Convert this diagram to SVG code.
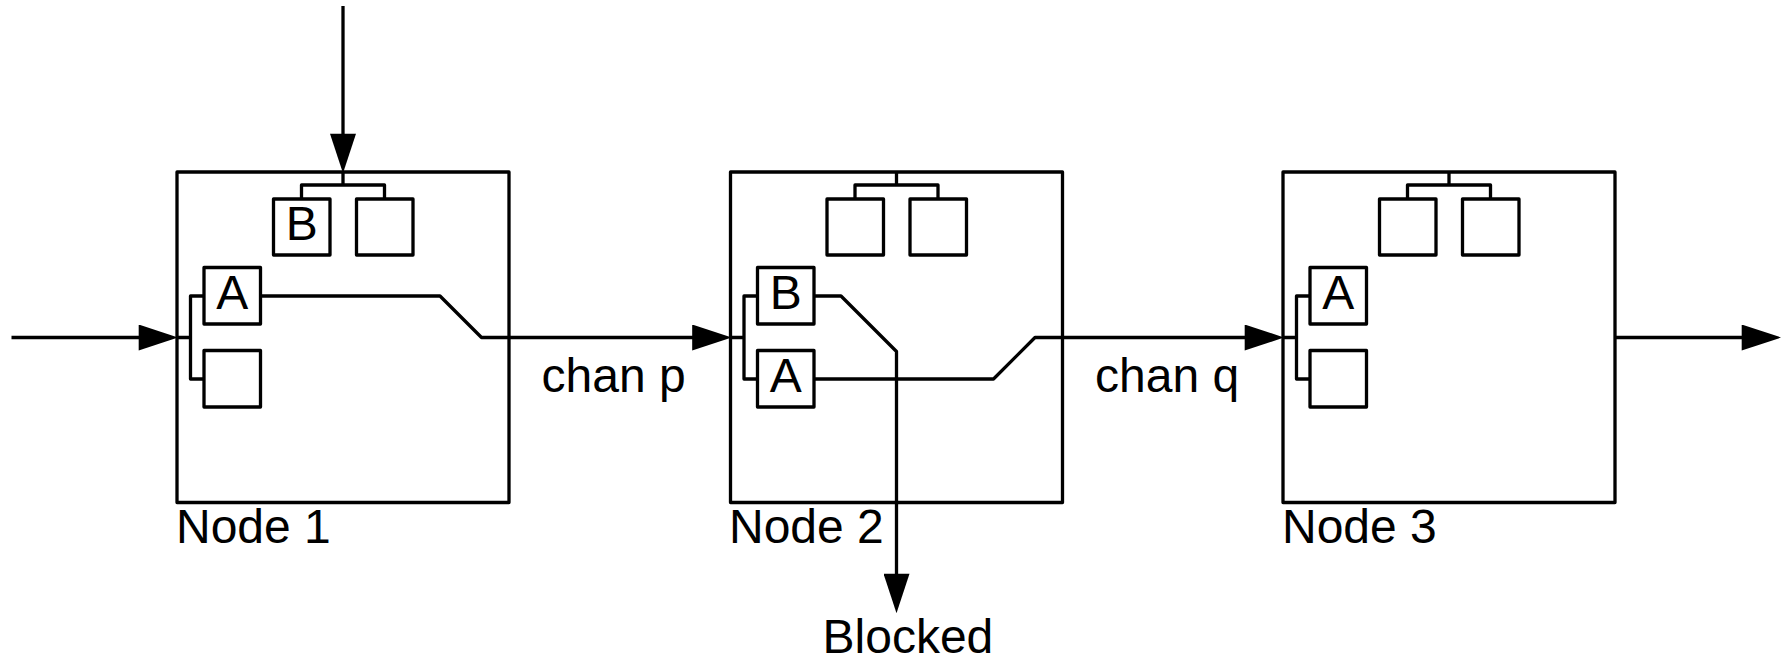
<svg xmlns="http://www.w3.org/2000/svg" width="1787" height="660" viewBox="0 0 1787 660">
<defs>
<style>
.ln{fill:none;stroke:#000;stroke-width:3.3;stroke-linejoin:round}
.bx{fill:#fff;stroke:#000;stroke-width:3.3;stroke-linejoin:round}
.nd{fill:none;stroke:#000;stroke-width:3.3;stroke-linejoin:round}
.t{font-family:"Liberation Sans",Arial,sans-serif;font-size:48px;fill:#000}
.c{text-anchor:middle}
</style>
<marker id="ah" markerUnits="userSpaceOnUse" markerWidth="40" markerHeight="26" viewBox="0 0 38 25" refX="8" refY="12.5" orient="auto">
<path d="M0,0 L38,12.5 L0,25 Z" fill="#000"/>
</marker>
</defs>
<rect width="1787" height="660" fill="#fff"/>

<g id="node1">
<rect class="nd" x="177" y="172" width="332" height="330.5"/>
<path class="ln" d="M343,172 V185 M301.5,199 V185 H384.5 V199 M177,337.5 H190.5 M204,296 H190.5 V379 H204"/>
<rect class="bx" x="273.5" y="199" width="56.5" height="56"/>
<rect class="bx" x="356.5" y="199" width="56.5" height="56"/>
<rect class="bx" x="204" y="267.5" width="56.5" height="56.5"/>
<rect class="bx" x="204" y="350.5" width="56.5" height="56.5"/>
<text class="t c" x="301.75" y="240">B</text>
<text class="t c" x="232.25" y="309">A</text>
<text class="t" x="176" y="543">Node 1</text>
</g>

<g id="node2">
<rect class="nd" x="730.5" y="172" width="332" height="330.5"/>
<path class="ln" d="M896.5,172 V185 M855,199 V185 H938 V199 M730.5,337.5 H744 M757.5,296 H744 V379 H757.5"/>
<rect class="bx" x="827" y="199" width="56.5" height="56"/>
<rect class="bx" x="910" y="199" width="56.5" height="56"/>
<rect class="bx" x="757.5" y="267.5" width="56.5" height="56.5"/>
<rect class="bx" x="757.5" y="350.5" width="56.5" height="56.5"/>
<text class="t c" x="785.75" y="309">B</text>
<text class="t c" x="785.75" y="392">A</text>
<text class="t" x="729" y="543">Node 2</text>
</g>

<g id="node3">
<rect class="nd" x="1283" y="172" width="332" height="330.5"/>
<path class="ln" d="M1449,172 V185 M1407.5,199 V185 H1490.5 V199 M1283,337.5 H1296.5 M1310,296 H1296.5 V379 H1310"/>
<rect class="bx" x="1379.5" y="199" width="56.5" height="56"/>
<rect class="bx" x="1462.5" y="199" width="56.5" height="56"/>
<rect class="bx" x="1310" y="267.5" width="56.5" height="56.5"/>
<rect class="bx" x="1310" y="350.5" width="56.5" height="56.5"/>
<text class="t c" x="1338.25" y="309">A</text>
<text class="t" x="1282" y="543">Node 3</text>
</g>

<g id="connectors">
<path class="ln" d="M343,6 V142" marker-end="url(#ah)"/>
<path class="ln" d="M11.5,337.5 H147" marker-end="url(#ah)"/>
<path class="ln" d="M260.5,296 H440 L481.5,337.5 H700.5" marker-end="url(#ah)"/>
<path class="ln" d="M814,296 H841 L896.5,351.5 V582" marker-end="url(#ah)"/>
<path class="ln" d="M814,379 H993.5 L1035,337.5 H1253" marker-end="url(#ah)"/>
<path class="ln" d="M1615,337.5 H1750" marker-end="url(#ah)"/>
<text class="t" x="541.5" y="391.5">chan p</text>
<text class="t" x="1095" y="391.5">chan q</text>
<text class="t" x="822.5" y="653">Blocked</text>
</g>
</svg>
